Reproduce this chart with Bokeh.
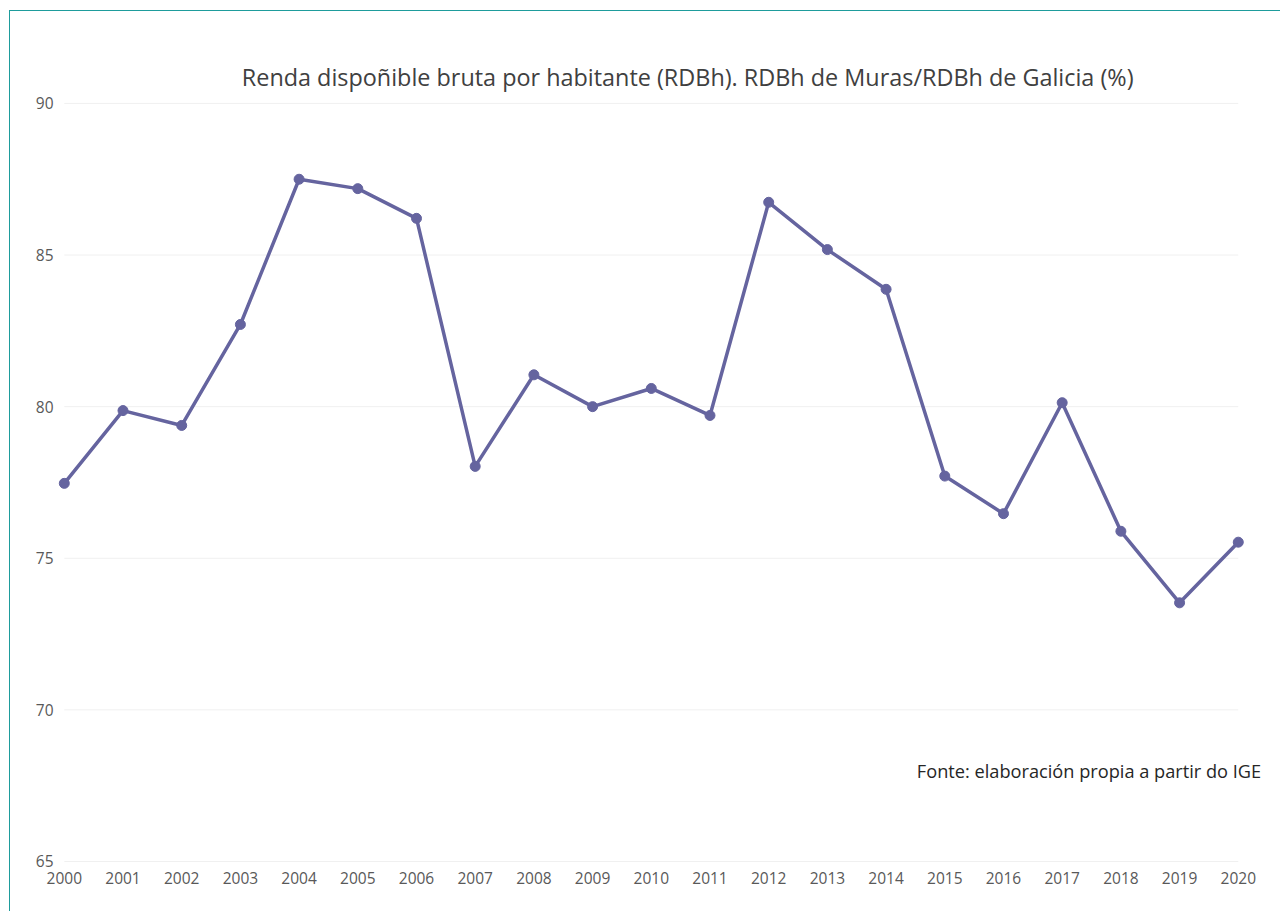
from bokeh.plotting import figure
from bokeh.models import Range1d, FixedTicker, Label
from bokeh.layouts import column
from bokeh.embed import file_html
from bokeh.resources import INLINE

years = list(range(2000, 2021))
rdbh_ratio = [77.47, 79.87, 79.38, 82.71, 87.50, 87.19, 86.21, 78.03, 81.05, 80.0,
              80.6, 79.71, 86.74, 85.18, 83.87, 77.71, 76.47, 80.13, 75.89, 73.53, 75.53]
y_ticks = [65, 70, 75, 80, 85, 90]
title_text = "Renda dispoñible bruta por habitante (RDBh). RDBh de Muras/RDBh de Galicia (%)"
source_text = "Fonte: elaboración propia a partir do IGE"

FONT = "Open Sans"
LINE_COLOR = "#65649f"

p = figure(width=1271, height=901, output_backend="svg", toolbar_location=None,
           x_range=Range1d(1999.85, 2020.6), y_range=Range1d(64.9, 92.9),
           min_border_left=45, min_border_right=8, min_border_top=4, min_border_bottom=48)
p.styles = {"border-left": "1px solid #1e9c9c", "border-top": "1px solid #1e9c9c"}
p.outline_line_color = None
p.background_fill_color = "white"
p.border_fill_color = "white"

# horizontal grid lines spanning the category extent
p.segment(x0=[years[0]] * len(y_ticks), x1=[years[-1]] * len(y_ticks), y0=y_ticks, y1=y_ticks,
          line_color="#f0f0f0", line_width=1)

p.line(years, rdbh_ratio, line_color=LINE_COLOR, line_width=3.5)
p.scatter(years, rdbh_ratio, size=10, fill_color=LINE_COLOR, line_color=LINE_COLOR)

p.xaxis.ticker = FixedTicker(ticks=years)
p.yaxis.ticker = FixedTicker(ticks=y_ticks)
for ax in (p.xaxis, p.yaxis):
    ax.axis_line_color = None
    ax.major_tick_line_color = None
    ax.minor_tick_line_color = None
    ax.major_label_text_font = FONT
    ax.major_label_text_font_size = "15.5px"
    ax.major_label_text_color = "#595959"
p.xaxis.major_label_standoff = 1
p.yaxis.major_label_standoff = -4

p.xgrid.grid_line_color = None
p.ygrid.grid_line_color = None

title = Label(x=2010.62, y=90.86, text=title_text, text_align="center", text_baseline="middle",
              text_font=FONT, text_font_size="23.4px", text_color="#404040")
p.add_layout(title)
src = Label(x=2020.39, y=67.97, text=source_text, text_align="right", text_baseline="middle",
            text_font=FONT, text_font_size="18.2px", text_color="#262626")
p.add_layout(src)

layout = column(p, styles={"padding-left": "9px", "padding-top": "10px"})

open("out.html", "w").write(file_html(layout, INLINE))
